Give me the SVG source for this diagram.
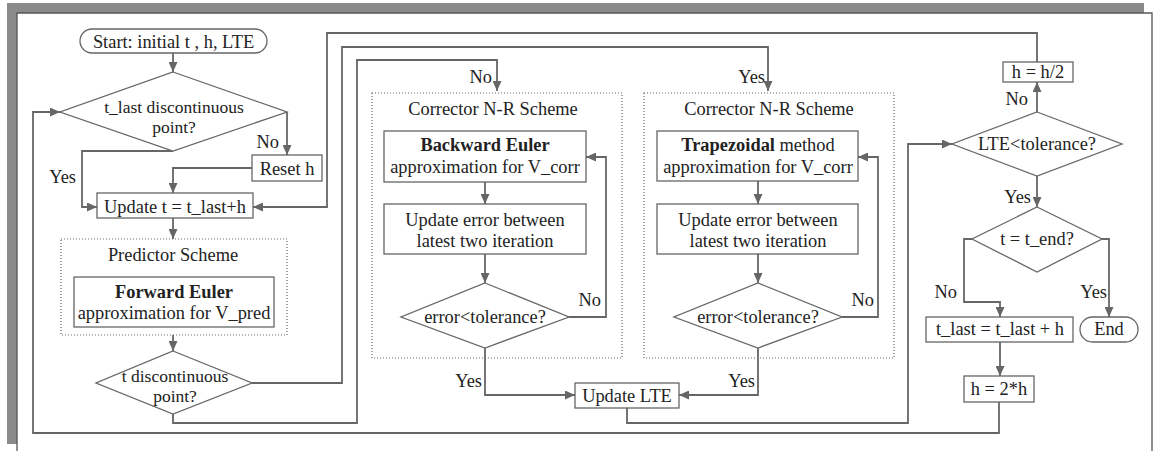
<svg xmlns="http://www.w3.org/2000/svg" width="1153" height="451" viewBox="0 0 1153 451" font-family="'Liberation Serif', 'Times New Roman', Times, 'DejaVu Serif', serif">
<style>
text{font-family:'Liberation Serif','Times New Roman',Times,'DejaVu Serif',serif;font-size:18.4px;fill:#222;}
.c{text-anchor:middle;}
.r{text-anchor:end;}
.b{font-weight:bold;}
.s{font-size:17.5px;}
.box{fill:#fff;stroke:#666;stroke-width:1.3;}
.dot{fill:none;stroke:#666;stroke-width:1.2;stroke-dasharray:1 2;}
.ar{fill:none;stroke:#666;stroke-width:1.8;marker-end:url(#ah);}
</style>
<defs>
<marker id="ah" markerUnits="userSpaceOnUse" markerWidth="10" markerHeight="9" refX="10" refY="4.5" orient="auto">
<path d="M0,0 L10,4.5 L0,9 z" fill="#666"/>
</marker>
</defs>
<rect width="1153" height="451" fill="#fff"/>
<g id="frame">
<rect x="7" y="3" width="1137" height="10" fill="#8a8a8a"/>
<rect x="7" y="3" width="10" height="441" fill="#8a8a8a"/>
<path d="M17,451 V13 H1152 V451" fill="none" stroke="#555" stroke-width="1.3"/>
</g>
<g id="connectors">
<path class="ar" d="M173,53 V72"/>
<path class="ar" d="M287,112 V155"/>
<path class="ar" d="M252,168 H173 V193"/>
<path class="ar" d="M173,151 H82 V207 H97"/>
<path class="ar" d="M173,218 V239"/>
<path class="ar" d="M173,335 V351"/>
<path class="ar" d="M252,383 H342 V47 H768 V91"/>
<path class="ar" d="M173,414 V423 H357 V60 H497 V91"/>
<path class="ar" d="M1037,62 V33 H327 V207 H253"/>
<path class="ar" d="M485,182 V204"/>
<path class="ar" d="M485,254 V283"/>
<path class="ar" d="M569,317 H606 V157 H586"/>
<path class="ar" d="M485,348 V395 H575"/>
<path class="ar" d="M758,181 V204"/>
<path class="ar" d="M758,254 V283"/>
<path class="ar" d="M842,317 H878 V157 H858"/>
<path class="ar" d="M758,348 V395 H679"/>
<path class="ar" d="M627,408 V423 H908 V144 H952"/>
<path class="ar" d="M1037,112 V82"/>
<path class="ar" d="M1037,176 V207"/>
<path class="ar" d="M972,239 H964 V302 H1000 V317"/>
<path class="ar" d="M1102,239 H1109 V317"/>
<path class="ar" d="M1000,342 V376"/>
<path class="ar" d="M999,402 V433 H33 V112 H60"/>
</g>
<g id="labels">
<text class="r" x="279" y="148">No</text>
<text class="r" x="76" y="183">Yes</text>
<text class="r" x="492" y="83">No</text>
<text class="r" x="765" y="83">Yes</text>
<text class="r" x="601" y="306">No</text>
<text class="r" x="482" y="387">Yes</text>
<text class="r" x="874" y="306">No</text>
<text class="r" x="755" y="387">Yes</text>
<text class="r" x="1028" y="105">No</text>
<text class="r" x="1031" y="203">Yes</text>
<text class="r" x="957" y="298">No</text>
<text class="r" x="1107" y="298">Yes</text>
</g>
<g id="start">
<rect class="box" x="80" y="29" width="187" height="24" rx="12"/>
<text class="c" x="173.5" y="48">Start: initial t , h, LTE</text>
</g>
<g id="d-tlast">
<polygon class="box" points="173,72 287,112 173,151 60,112"/>
<text class="c s" x="174" y="113">t_last discontinuous</text>
<text class="c s" x="174" y="133">point?</text>
</g>
<g id="reset">
<rect class="box" x="252" y="155" width="70" height="26"/>
<text class="c" x="287" y="175">Reset h</text>
</g>
<g id="update-t">
<rect class="box" x="97" y="193" width="156" height="25"/>
<text class="c" x="175" y="213">Update t = t_last+h</text>
</g>
<g id="predictor">
<rect class="dot" x="61" y="239" width="226" height="96"/>
<text class="c" x="173" y="261">Predictor Scheme</text>
<rect class="box" x="74" y="277" width="200" height="50"/>
<text class="c b" x="174" y="298">Forward Euler</text>
<text class="c" x="174" y="319">approximation for V_pred</text>
</g>
<g id="d-tdisc">
<polygon class="box" points="173,351 252,383 173,414 96,383"/>
<text class="c s" x="175" y="382">t discontinuous</text>
<text class="c s" x="175" y="402">point?</text>
</g>
<g id="corrector-be">
<rect class="dot" x="372" y="93" width="250" height="265"/>
<text class="c" x="493" y="115">Corrector N-R Scheme</text>
<rect class="box" x="384" y="131" width="202" height="51"/>
<text class="c b" x="485" y="151">Backward Euler</text>
<text class="c" x="485" y="173">approximation for V_corr</text>
<rect class="box" x="384" y="204" width="202" height="50"/>
<text class="c" x="485" y="226">Update error between</text>
<text class="c" x="485" y="247">latest two iteration</text>
<polygon class="box" points="485,283 569,317 485,348 401,317"/>
<text class="c" x="485" y="323">error&lt;tolerance?</text>
</g>
<g id="corrector-tr">
<rect class="dot" x="644" y="93" width="250" height="265"/>
<text class="c" x="769" y="115">Corrector N-R Scheme</text>
<rect class="box" x="657" y="131" width="201" height="50"/>
<text class="c" x="758" y="151"><tspan class="b">Trapezoidal</tspan> method</text>
<text class="c" x="758" y="173">approximation for V_corr</text>
<rect class="box" x="657" y="204" width="201" height="50"/>
<text class="c" x="758" y="226">Update error between</text>
<text class="c" x="758" y="247">latest two iteration</text>
<polygon class="box" points="758,283 842,317 758,348 674,317"/>
<text class="c" x="758" y="323">error&lt;tolerance?</text>
</g>
<g id="update-lte">
<rect class="box" x="575" y="383" width="104" height="25"/>
<text class="c" x="627" y="402">Update LTE</text>
</g>
<g id="h-half">
<rect class="box" x="1003" y="62" width="70" height="20"/>
<text class="c" x="1038" y="78">h = h/2</text>
</g>
<g id="d-lte">
<polygon class="box" points="1037,112 1122,144 1037,176 952,144"/>
<text class="c" x="1037" y="150">LTE&lt;tolerance?</text>
</g>
<g id="d-tend">
<polygon class="box" points="1037,207 1102,239 1037,272 972,239"/>
<text class="c" x="1037" y="245">t = t_end?</text>
</g>
<g id="t-last">
<rect class="box" x="926" y="317" width="147" height="25"/>
<text class="c" x="1000" y="335">t_last = t_last + h</text>
</g>
<g id="end">
<rect class="box" x="1080" y="317" width="58" height="25" rx="12.5"/>
<text class="c" x="1109" y="335">End</text>
</g>
<g id="h-double">
<rect class="box" x="964" y="376" width="70" height="26"/>
<text class="c" x="999" y="395">h = 2*h</text>
</g>
</svg>
